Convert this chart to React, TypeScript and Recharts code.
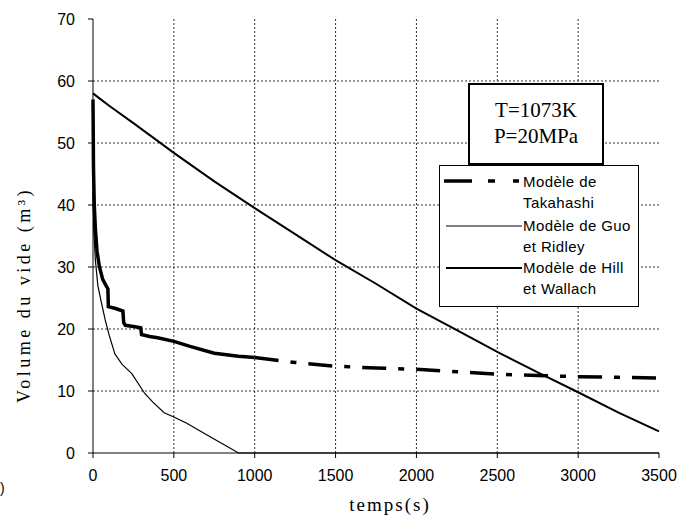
import { LineChart, Line, XAxis, YAxis, CartesianGrid } from "recharts";

// temps (s) et volume du vide pour chaque modèle
const takahashiT = [0, 3, 8, 15, 25, 40, 60, 85, 92, 95, 140, 185, 190, 200, 250, 295, 300, 350, 400, 500, 600, 750, 900, 1000];
const takahashiV = [57, 46, 40, 36, 32.5, 30, 28, 26.8, 26.5, 23.6, 23.3, 22.9, 21, 20.6, 20.4, 20.2, 19.1, 18.8, 18.6, 18, 17.2, 16.1, 15.6, 15.4];

const takahashiSuiteT = [1000, 1250, 1500, 1750, 2000, 2250, 2500, 2750, 3000, 3250, 3500];
const takahashiSuiteV = [15.4, 14.6, 14, 13.7, 13.5, 13.1, 12.7, 12.5, 12.3, 12.2, 12.1];

const guoT = [0, 5, 15, 30, 50, 75, 100, 135, 180, 240, 320, 370, 440, 500, 580, 700, 800, 900, 3500];
const guoV = [42, 36, 31, 27, 24.5, 21.5, 19, 16, 14.3, 12.8, 9.6, 8.2, 6.5, 5.8, 4.8, 3, 1.5, 0, 0];

const hillT = [0, 50, 100, 250, 500, 750, 1000, 1250, 1500, 1750, 2000, 2250, 2500, 2750, 3000, 3250, 3500];
const hillV = [58, 57, 56, 53.2, 48.4, 43.8, 39.5, 35.3, 31.1, 27.3, 23.3, 19.8, 16.3, 13, 9.8, 6.5, 3.5];

const xTicks = [0, 500, 1000, 1500, 2000, 2500, 3000, 3500];
const yTicks = [0, 10, 20, 30, 40, 50, 60, 70];

const zip = (t: number[], v: number[]) => t.map((x, i) => ({ t: x, v: v[i] }));

const sans = "'Liberation Sans', Arial, sans-serif";
const serif = "'Liberation Serif', 'Times New Roman', serif";

export default function App() {
  return (
    <div style={{ position: "absolute", left: 0, top: 0, width: 696, height: 524, background: "#fff" }}>
      <LineChart width={696} height={524} margin={{ top: 19, right: 37, bottom: 0, left: 0 }}>
        {/* grille pointillée */}
        <CartesianGrid
          stroke="#333"
          strokeDasharray="2 2"
          horizontalValues={[10, 20, 30, 40, 50, 60]}
          verticalValues={[500, 1000, 1500, 2000, 2500, 3000]}
        />
        <XAxis
          type="number"
          dataKey="t"
          domain={[0, 3500]}
          ticks={xTicks}
          height={71}
          stroke="#000"
          tickSize={5}
          tickMargin={12}
          tick={{ fill: "#000", fontSize: 16, fontFamily: sans }}
          allowDuplicatedCategory={false}
        />
        <YAxis
          type="number"
          domain={[0, 70]}
          ticks={yTicks}
          width={93}
          stroke="#000"
          tickSize={5}
          tickMargin={13}
          tick={{ fill: "#000", fontSize: 16, fontFamily: sans }}
        />
        <Line data={zip(hillT, hillV)} dataKey="v" stroke="#000" strokeWidth={2} dot={false} isAnimationActive={false} />
        <Line data={zip(guoT, guoV)} dataKey="v" stroke="#000" strokeWidth={1.2} dot={false} isAnimationActive={false} />
        <Line data={zip(takahashiT, takahashiV)} dataKey="v" stroke="#000" strokeWidth={3.5} dot={false} isAnimationActive={false} />
        <Line
          data={zip(takahashiSuiteT, takahashiSuiteV)}
          dataKey="v"
          stroke="#000"
          strokeWidth={3.5}
          strokeDasharray="24 12 6 12"
          dot={false}
          isAnimationActive={false}
        />
      </LineChart>

      {/* titres des axes */}
      <div
        style={{
          position: "absolute",
          left: 24,
          top: 295,
          transform: "translate(-50%, -50%) rotate(-90deg)",
          whiteSpace: "nowrap",
          fontFamily: serif,
          fontSize: 18,
          letterSpacing: 3.5,
        }}
      >
        Volume du vide (m³)
      </div>
      <div
        style={{
          position: "absolute",
          left: 390,
          top: 505,
          transform: "translate(-50%, -50%)",
          whiteSpace: "nowrap",
          fontFamily: serif,
          fontSize: 19,
          letterSpacing: 2,
        }}
      >
        temps(s)
      </div>
      <div style={{ position: "absolute", left: 0, top: 480, fontFamily: sans, fontSize: 14 }}>)</div>

      {/* conditions */}
      <div
        style={{
          position: "absolute",
          left: 468,
          top: 83,
          width: 136,
          height: 82,
          boxSizing: "border-box",
          border: "2px solid #000",
          background: "#fff",
          fontFamily: serif,
          fontSize: 21,
          lineHeight: "26px",
          paddingTop: 12,
          textAlign: "center",
        }}
      >
        T=1073K
        <br />
        P=20MPa
      </div>

      {/* légende */}
      <div
        style={{
          position: "absolute",
          left: 439,
          top: 165,
          width: 200,
          height: 142,
          boxSizing: "border-box",
          border: "1.5px solid #000",
          background: "#fff",
          fontFamily: sans,
          fontSize: 15,
          letterSpacing: 0.4,
        }}
      >
        <svg width={200} height={142} style={{ position: "absolute", left: 0, top: 0 }}>
          <line x1={4} x2={32} y1={15} y2={15} stroke="#000" strokeWidth={3.5} />
          <line x1={48} x2={55} y1={15} y2={15} stroke="#000" strokeWidth={3.5} />
          <line x1={73} x2={79} y1={15} y2={15} stroke="#000" strokeWidth={3.5} />
          <line x1={6} x2={82} y1={60} y2={60} stroke="#000" strokeWidth={1.2} />
          <line x1={6} x2={82} y1={102} y2={102} stroke="#000" strokeWidth={2} />
        </svg>
        <div style={{ position: "absolute", left: 83, top: 5, lineHeight: "21px", whiteSpace: "nowrap" }}>
          Modèle de
          <br />
          Takahashi
        </div>
        <div style={{ position: "absolute", left: 83, top: 49, lineHeight: "21px", whiteSpace: "nowrap" }}>
          Modèle de Guo
          <br />
          et Ridley
        </div>
        <div style={{ position: "absolute", left: 83, top: 91, lineHeight: "21px", whiteSpace: "nowrap" }}>
          Modèle de Hill
          <br />
          et Wallach
        </div>
      </div>
    </div>
  );
}
